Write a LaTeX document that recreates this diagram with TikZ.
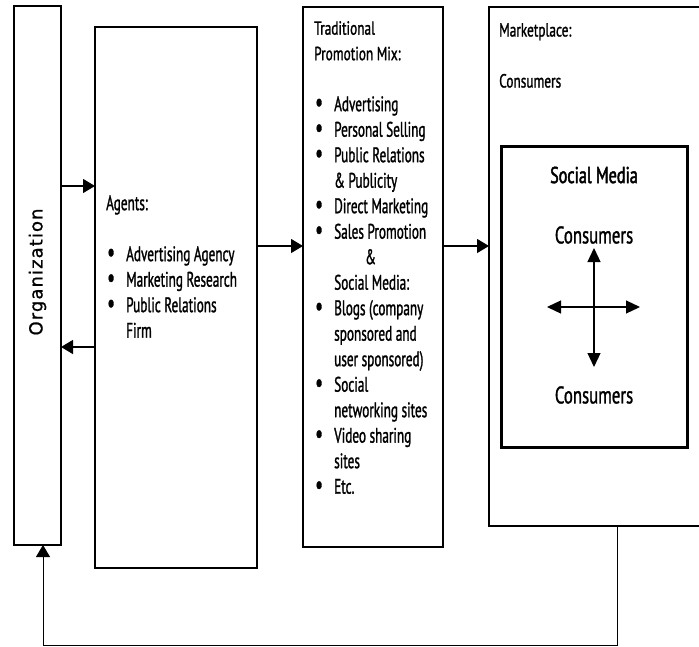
\documentclass[tikz,border=0pt]{standalone}
\usepackage{fontspec}
\setmainfont{DejaVu Sans}
\newfontfamily\condfont[FakeStretch=0.63,FakeBold=1.2]{PT Sans}
\newfontfamily\headfont[FakeStretch=0.7,FakeBold=1.2]{PT Sans}
\newfontfamily\titlefont[FakeStretch=0.7,FakeBold=2]{PT Sans}
\newfontfamily\orgfont[LetterSpace=6,FakeBold=0.8]{DejaVu Sans}
\usetikzlibrary{arrows.meta,positioning}

% list helpers
\newcommand{\itm}[1]{\makebox[20pt][l]{\hspace{1pt}\scalebox{1.3}{\textbullet}}#1}
\newcommand{\cnt}[1]{\hspace*{20pt}#1}
\newcommand{\listfont}{\condfont\fontsize{21}{25.5}\selectfont}

\begin{document}
\begin{tikzpicture}[x=1pt,y=-1pt,
    box/.style={draw, line width=1.2pt, inner sep=0pt, outer sep=0pt, anchor=north west},
    arr/.style={line width=1.2pt, -{Triangle[length=12pt,width=14pt]}},
    crossarr/.style={line width=1.2pt, {Triangle[length=14pt,width=13pt]}-{Triangle[length=14pt,width=13pt]}},
    txt/.style={inner sep=0pt, anchor=north west, align=left,
        font=\headfont\fontsize{19}{25.5}\selectfont},
    bigtxt/.style={inner sep=0pt, font=\headfont\fontsize{24}{28}\selectfont}]
    \useasboundingbox (0,0) rectangle (699,646);
    \clip (0,0) rectangle (699,646);

    % boxes
    \node[box, minimum width=47pt, minimum height=539pt] (org) at (14,6) {};
    \node[box, minimum width=162pt, minimum height=541pt] (agents) at (95,27) {};
    \node[box, minimum width=140pt, minimum height=540pt] (promo) at (303,7) {};
    \node[box, minimum width=214pt, minimum height=519pt] (market) at (489,7) {};
    \node[box, line width=3pt, minimum width=186pt, minimum height=301pt] (social) at (501,146) {};

    % texts
    \node[rotate=90, inner sep=0pt, font=\orgfont\fontsize{18}{20}\selectfont] (orgtxt) at (37.5,272) {Organization};
    \node[txt, font=\listfont] (agtxt) at (106,195) {Agents:\\[25.5pt]
        \itm{Advertising Agency}\\
        \itm{Marketing Research}\\
        \itm{Public Relations}\\
        \cnt{Firm}};
    \node[txt] (promotxt) at (314,21) {Traditional\\
        Promotion Mix:\\[25.5pt]
        \listfont\itm{Advertising}\\
        \listfont\itm{Personal Selling}\\
        \listfont\itm{Public Relations}\\
        \listfont\cnt{\& Publicity}\\
        \listfont\itm{Direct Marketing}\\
        \listfont\itm{Sales Promotion}\\
        \listfont\hspace*{51pt}\&\\
        \listfont\hspace*{20pt}Social Media:\\
        \listfont\itm{Blogs (company}\\
        \listfont\cnt{sponsored and}\\
        \listfont\cnt{user sponsored)}\\
        \listfont\itm{Social}\\
        \listfont\cnt{networking sites}\\
        \listfont\itm{Video sharing}\\
        \listfont\cnt{sites}\\
        \listfont\itm{Etc.}};
    \node[txt] (mkttxt) at (499,23) {Marketplace:\\[25.5pt]Consumers};
    \node[inner sep=0pt, font=\titlefont\fontsize{23}{26}\selectfont] (smtitle) at (594,175) {Social Media};
    \node[bigtxt] (constop) at (594,235) {Consumers};
    \node[bigtxt] (consbot) at (594,395) {Consumers};

    % connector heights
    \coordinate (r1) at (0,186);
    \coordinate (r2) at (0,347);
    \coordinate (r3) at (0,246);
    \coordinate (fb) at (617,645);
    \coordinate (vtop) at (594,248);
    \coordinate (vbot) at (594,367);
    \coordinate (hleft) at (547,307);
    \coordinate (hright) at (640,307);

    % connectors
    \draw[arr] (org.east |- r1) -- (agents.west |- r1);
    \draw[arr] (agents.west |- r2) -- (org.east |- r2);
    \draw[arr] (agents.east |- r3) -- (promo.west |- r3);
    \draw[arr] (promo.east |- r3) -- (market.west |- r3);
    \draw[arr, line width=1pt] (market.south -| fb) -- (fb) -| ([xshift=5.5pt]org.south);
    \draw[crossarr] (vtop) -- (vbot);
    \draw[crossarr] (hleft) -- (hright);
\end{tikzpicture}
\end{document}
